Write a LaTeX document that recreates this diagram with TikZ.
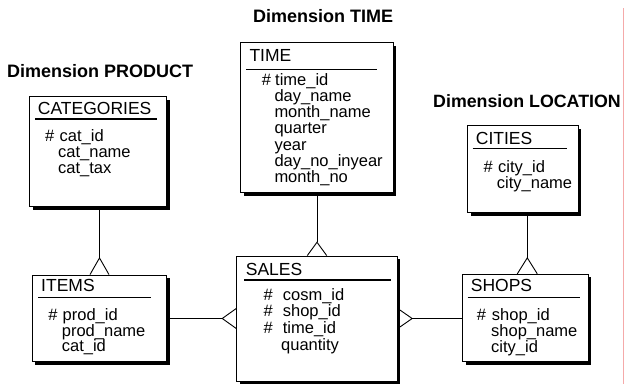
\documentclass[tikz,border=0pt]{standalone}
\usepackage{fontspec}
\setmainfont{Liberation Sans}
\usetikzlibrary{shadows,calc}
\definecolor{pinkline}{RGB}{245,170,170}
\begin{document}
\begin{tikzpicture}[x=1pt,y=-1pt,
 ent/.style={draw=black, line width=0.9pt, fill=white, inner sep=0pt,
   general shadow={fill=black, shadow xshift=3pt, shadow yshift=-3pt}},
 ttl/.style={anchor=base west, inner sep=0pt, font=\fontsize{17.5}{17.5}\selectfont},
 fld/.style={anchor=base west, inner sep=0pt, font=\fontsize{16.5}{16.5}\selectfont},
 dimlabel/.style={anchor=base west, inner sep=0pt, font=\fontsize{18}{18}\selectfont\bfseries},
 ul/.style={line width=1.3pt},
 conn/.style={line width=0.9pt}]
\useasboundingbox (0,0) rectangle (625,384);
\fill[white] (0,0) rectangle (625,384);
\draw[pinkline, line width=0.8pt] (623.5,8) -- (623.5,384);

% labels
\node[dimlabel] (dtime) at (253,22) {Dimension TIME};
\node[dimlabel] (dprod) at (7,77) {Dimension PRODUCT};
\node[dimlabel, font=\fontsize{17.8}{17.8}\selectfont\bfseries] (dloc) at (433,107) {Dimension LOCATION};

% boxes
\node[ent, minimum width=137pt, minimum height=110pt] (cat) at (98,151.7) {};
\node[ent, minimum width=152.6pt, minimum height=150pt] (time) at (317,117.7) {};
\node[ent, minimum width=134.4pt, minimum height=86.7pt] (items) at (99.5,318.4) {};
\node[ent, minimum width=160.6pt, minimum height=125pt] (sales) at (317,318.5) {};
\node[ent, minimum width=110.6pt, minimum height=87pt] (cities) at (523,169.2) {};
\node[ent, minimum width=125.6pt, minimum height=87.4pt] (shops) at (525.5,318) {};

% CATEGORIES
\node[ttl] (catT) at (37.7,114.3) {CATEGORIES};
\draw[ul] (35,119) -- (156.7,119);
\node[fld] (catH) at (45,141.7) {\#};
\node[fld] (catF1) at (59.5,141.7) {cat\_id};
\node[fld] (catF2) at (58,157.5) {cat\_name};
\node[fld] (catF3) at (58,173) {cat\_tax};

% TIME
\node[ttl] (timeT) at (249.3,61.7) {TIME};
\draw[ul] (246,69.3) -- (377.3,69.3);
\node[fld] (timeH) at (261.7,85) {\#};
\node[fld] (timeF1) at (275,85) {time\_id};
\node[fld] (timeF2) at (274.3,101.3) {day\_name};
\node[fld] (timeF3) at (274.3,117.6) {month\_name};
\node[fld] (timeF4) at (274.3,133.9) {quarter};
\node[fld] (timeF5) at (274.3,150.2) {year};
\node[fld] (timeF6) at (274.3,166.5) {day\_no\_inyear};
\node[fld] (timeF7) at (274.3,182.8) {month\_no};

% ITEMS
\node[ttl] (itemsT) at (41,291.7) {ITEMS};
\draw[ul] (38.3,297.3) -- (150.7,297.3);
\node[fld] (itemsH) at (48.3,320) {\#};
\node[fld] (itemsF1) at (62.5,320) {prod\_id};
\node[fld] (itemsF2) at (61.7,336) {prod\_name};
\node[fld] (itemsF3) at (61.7,351.7) {cat\_id};

% SALES
\node[ttl] (salesT) at (245.7,275) {SALES};
\draw[ul] (244.3,280) -- (390.7,280);
\node[fld] (salesH1) at (263.3,300) {\#};
\node[fld] (salesH2) at (263.3,316.7) {\#};
\node[fld] (salesH3) at (263.3,333.4) {\#};
\node[fld] (salesF1) at (282.7,300) {cosm\_id};
\node[fld] (salesF2) at (282.7,316.7) {shop\_id};
\node[fld] (salesF3) at (282.7,333.4) {time\_id};
\node[fld] (salesF4) at (281,350) {quantity};

% CITIES
\node[ttl] (citiesT) at (475.7,144) {CITIES};
\draw[ul] (472.7,148.3) -- (567.3,148.3);
\node[fld] (citiesH) at (483.3,172.7) {\#};
\node[fld] (citiesF1) at (498,172.7) {city\_id};
\node[fld] (citiesF2) at (496.7,188) {city\_name};

% SHOPS
\node[ttl] (shopsT) at (470.7,291.7) {SHOPS};
\draw[ul] (467.7,297.3) -- (580,297.3);
\node[fld] (shopsH) at (476.7,320) {\#};
\node[fld] (shopsF1) at (491.7,320) {shop\_id};
\node[fld] (shopsF2) at (491,336) {shop\_name};
\node[fld] (shopsF3) at (491,352) {city\_id};

% connectors with crow's feet
% CATEGORIES - ITEMS
\coordinate (a1) at ($(items.north)+(0,-16.7)$);
\draw[conn] (items.north |- cat.south) -- (a1);
\draw[conn] ($(items.north)+(-9.5,0)$) -- (a1) -- ($(items.north)+(9.5,0)$);
% TIME - SALES
\coordinate (a2) at ($(sales.north)+(0,-13.3)$);
\draw[conn] (time.south) -- (a2);
\draw[conn] ($(sales.north)+(-9.7,0)$) -- (a2) -- ($(sales.north)+(9.7,0)$);
% CITIES - SHOPS
\coordinate (s3) at ([xshift=1.8pt]shops.north);
\coordinate (a3) at ($(s3)+(0,-16)$);
\draw[conn] (s3 |- cities.south) -- (a3);
\draw[conn] ($(s3)+(-10,0)$) -- (a3) -- ($(s3)+(10,0)$);
% ITEMS - SALES
\coordinate (a4) at ($(sales.west)+(-14,0)$);
\draw[conn] (items.east |- a4) -- (a4);
\draw[conn] ($(sales.west)+(0,-10)$) -- (a4) -- ($(sales.west)+(0,10)$);
% SALES - SHOPS
\coordinate (a5) at ($(sales.east)+(14.4,0)$);
\draw[conn] (a5) -- (shops.west |- a5);
\draw[conn] ($(sales.east)+(0,-10)$) -- (a5) -- ($(sales.east)+(0,10)$);
\end{tikzpicture}
\end{document}
